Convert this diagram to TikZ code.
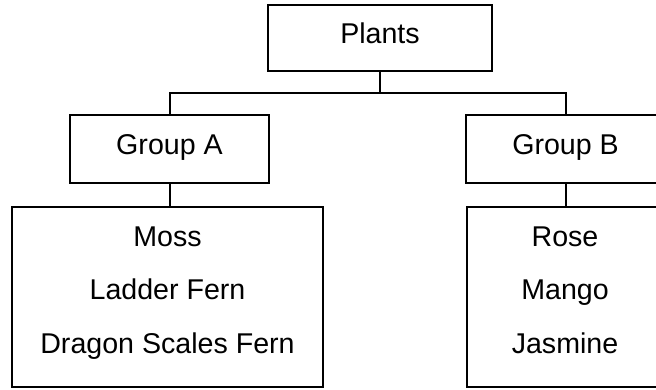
\documentclass[tikz,border=0pt]{standalone}
\usepackage{fontspec}
\setmainfont{Liberation Sans}
\begin{document}
\begin{tikzpicture}[x=1pt,y=-1pt,
  box/.style={draw=black, line width=2pt, rectangle, inner sep=0pt,
    font=\fontsize{28.6}{34}\selectfont, text height=21pt, text depth=11pt},
  item/.style={inner sep=0pt, anchor=base, font=\fontsize{28.6}{34}\selectfont},
  link/.style={draw=black, line width=2pt}]
\useasboundingbox (0,0) rectangle (656,389);
\clip (0,0) rectangle (656,389);
\fill[white] (0,0) rectangle (656,389);
\node[box, minimum width=224pt, minimum height=66pt] (plants) at (380,38) {Plants};
\node[box, minimum width=199pt, minimum height=68pt] (ga) at (169.5,149) {Group A};
\node[box, minimum width=199pt, minimum height=68pt] (gb) at (565.5,149) {Group B};
\node[box, minimum width=311pt, minimum height=180pt] (la) at (167.5,297) {};
\node[box, minimum width=198pt, minimum height=180pt] (rb) at (566,297) {};
\node[item] (la1) at (167.5,246) {Moss};
\node[item] (la2) at (167.5,299.5) {Ladder Fern};
\node[item] (la3) at (167.5,353) {Dragon Scales Fern};
\node[item] (rb1) at (565,246) {Rose};
\node[item] (rb2) at (565,299.5) {Mango};
\node[item] (rb3) at (565,353) {Jasmine};
\coordinate (mid) at (380,93);
\draw[link] (plants.south) -- (mid);
\draw[link] (ga.north) |- (mid) -| (gb.north);
\draw[link] (ga.south) -- (ga.south |- la.north);
\draw[link] (gb.south) -- (gb.south |- rb.north);
\end{tikzpicture}
\end{document}
